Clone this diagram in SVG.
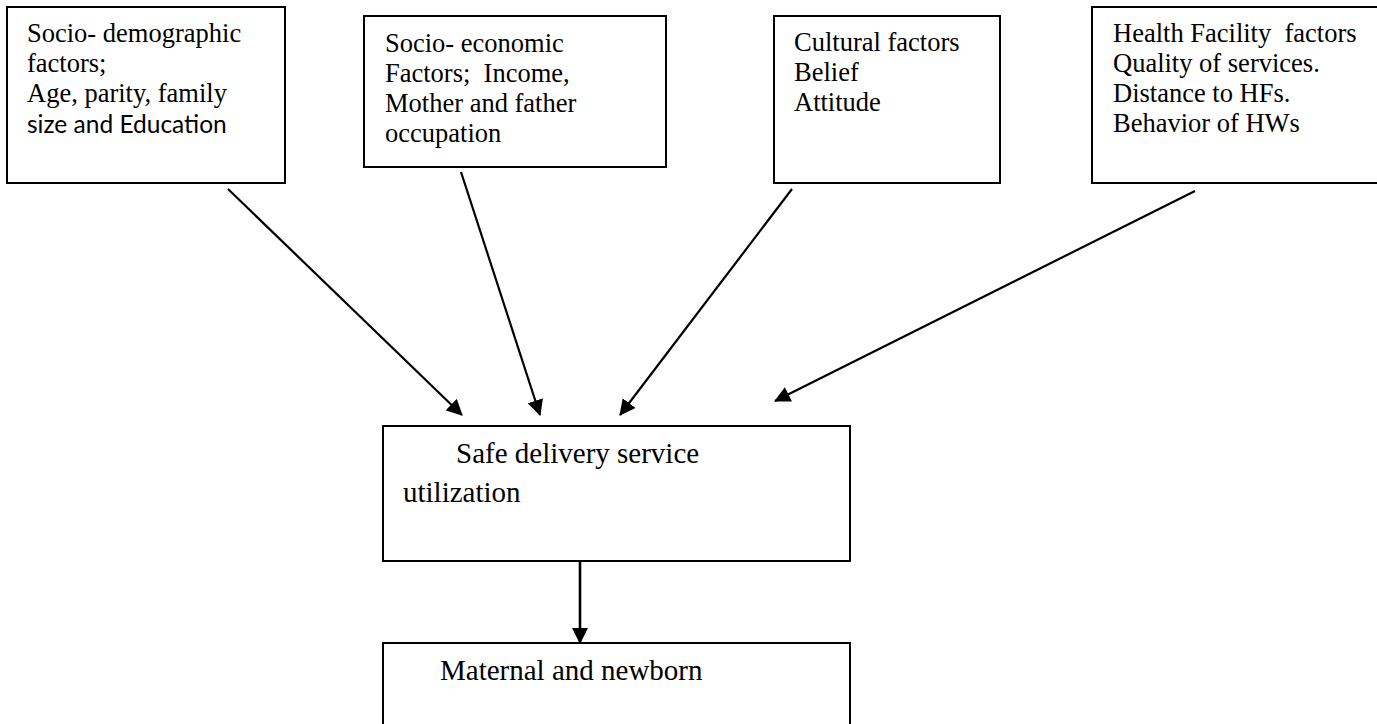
<svg xmlns="http://www.w3.org/2000/svg" width="1377" height="724" viewBox="0 0 1377 724">
  <style>
    .box { fill: #ffffff; stroke: #000000; stroke-width: 2; }
    .t { font-family: "Liberation Serif", "Times New Roman", serif; font-size: 26.5px; fill: #000000; white-space: pre; }
    .tl { font-family: "Liberation Serif", "Times New Roman", serif; font-size: 29px; fill: #000000; white-space: pre; }
    .c { font-family: Lato, "Liberation Sans", sans-serif; font-size: 24.5px; fill: #000000; white-space: pre; }
    .conn { stroke: #000000; stroke-width: 2.2; fill: none; marker-end: url(#ah); }
  </style>
  <defs>
    <marker id="ah" markerUnits="userSpaceOnUse" markerWidth="16" markerHeight="16" viewBox="0 0 16 16" refX="15" refY="8" orient="auto">
      <path d="M0,0 L16,8 L0,16 Z" fill="#000000"/>
    </marker>
  </defs>
  <rect width="1377" height="724" fill="#ffffff"/>

  <g id="node-sociodemographic">
    <rect class="box" x="7" y="7" width="278" height="176"/>
    <text class="t" x="27" y="42">Socio- demographic</text>
    <text class="t" x="27" y="72">factors;</text>
    <text class="t" x="27" y="102">Age, parity, family</text>
    <text class="c" x="27" y="133">size and Education</text>
  </g>

  <g id="node-socioeconomic">
    <rect class="box" x="364" y="16" width="302" height="151"/>
    <text class="t" x="385" y="52">Socio- economic</text>
    <text class="t" x="385" y="82">Factors;  Income,</text>
    <text class="t" x="385" y="112">Mother and father</text>
    <text class="t" x="385" y="142">occupation</text>
  </g>

  <g id="node-cultural">
    <rect class="box" x="774" y="16" width="226" height="167"/>
    <text class="t" x="794" y="51">Cultural factors</text>
    <text class="t" x="794" y="81">Belief</text>
    <text class="t" x="794" y="111">Attitude</text>
  </g>

  <g id="node-healthfacility">
    <rect class="box" x="1092" y="7" width="300" height="176"/>
    <text class="t" x="1113" y="42">Health Facility  factors</text>
    <text class="t" x="1113" y="72">Quality of services.</text>
    <text class="t" x="1113" y="102">Distance to HFs.</text>
    <text class="t" x="1113" y="132">Behavior of HWs</text>
  </g>

  <g id="node-safedelivery">
    <rect class="box" x="383" y="426" width="467" height="135"/>
    <text class="tl" x="456" y="463">Safe delivery service</text>
    <text class="tl" x="403" y="502">utilization</text>
  </g>

  <g id="node-maternal">
    <rect class="box" x="383" y="643" width="467" height="90"/>
    <text class="tl" x="440" y="680">Maternal and newborn</text>
  </g>

  <g id="connectors">
    <line class="conn" x1="228" y1="189" x2="462" y2="415"/>
    <line class="conn" x1="461" y1="172" x2="540" y2="415"/>
    <line class="conn" x1="792" y1="189" x2="620" y2="415"/>
    <line class="conn" x1="1195" y1="191" x2="775" y2="401"/>
    <line class="conn" x1="580" y1="562" x2="580" y2="643" style="stroke-width:2.6"/>
  </g>
</svg>
